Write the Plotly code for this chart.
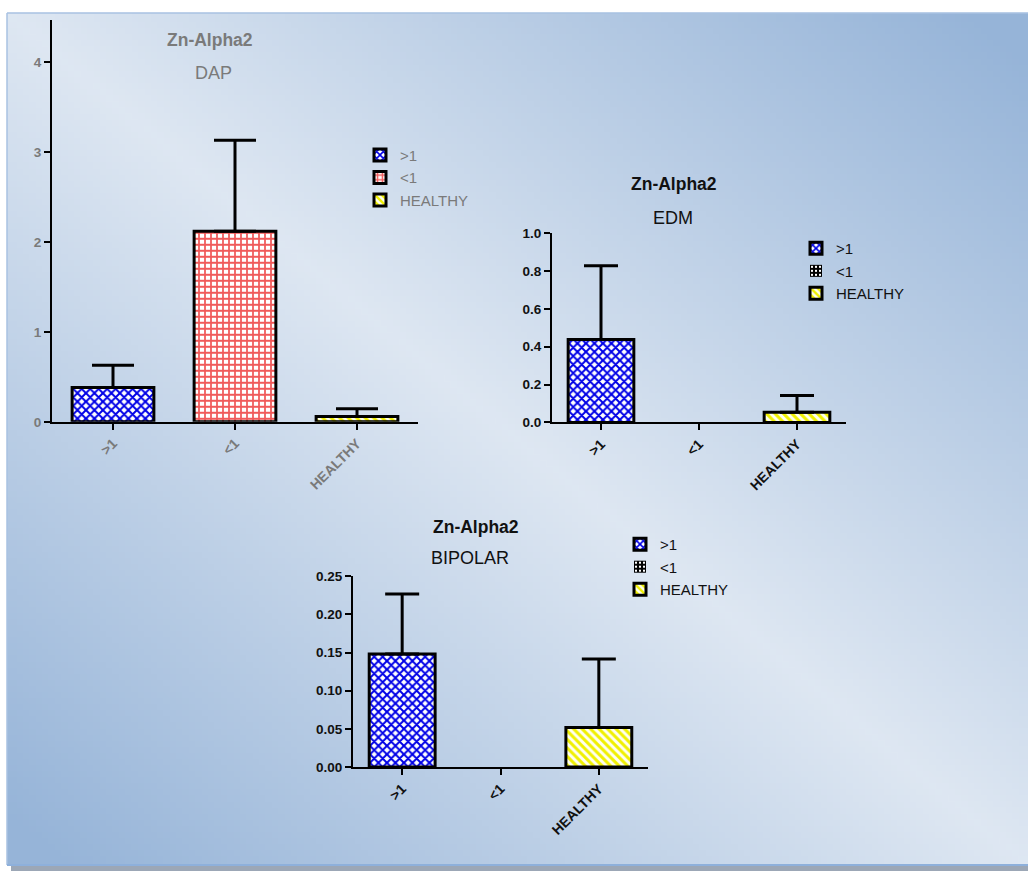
import base64
import struct
import zlib
import plotly.graph_objects as go

# ---------------- data ----------------
categories = [">1", "<1", "HEALTHY"]

dap_mean = [0.38, 2.12, 0.058]
dap_sd = [0.25, 1.01, 0.087]

edm_mean = [0.438, 0.0, 0.054]
edm_sd = [0.389, 0.0, 0.088]

bip_mean = [0.148, 0.0, 0.052]
bip_sd = [0.0785, 0.0, 0.0895]

chart_titles = ["Zn-Alpha2", "Zn-Alpha2", "Zn-Alpha2"]
chart_subtitles = ["DAP", "EDM", "BIPOLAR"]

# ---------------- styling helpers ----------------
W, H = 1028, 879
FONT = "Liberation Sans, Arial, sans-serif"
GRAY = "#7a7a7a"
BLACK = "#111111"


def px_x(x):
    return x / W


def px_y(y):
    return 1 - y / H


def make_png(w, h, fn):
    raw = bytearray()
    for j in range(h):
        raw.append(0)
        for i in range(w):
            raw.extend(fn(i / (w - 1), j / (h - 1)))

    def chunk(t, d):
        return struct.pack(">I", len(d)) + t + d + struct.pack(">I", zlib.crc32(t + d) & 0xFFFFFFFF)

    png = (b"\x89PNG\r\n\x1a\n"
           + chunk(b"IHDR", struct.pack(">IIBBBBB", w, h, 8, 2, 0, 0, 0))
           + chunk(b"IDAT", zlib.compress(bytes(raw), 9))
           + chunk(b"IEND", b""))
    return "data:image/png;base64," + base64.b64encode(png).decode()


LIGHT = (222, 231, 242)
DARK = (150, 180, 216)


def grad(u, v):
    t = min(1.0, abs(u - v) * 1.05)
    return bytes(int(round(LIGHT[k] + (DARK[k] - LIGHT[k]) * t)) for k in range(3))


bg_uri = make_png(160, 140, grad)

# pattern styles per category, per chart
pat_blue = dict(shape="x", fgcolor="#0000e6", bgcolor="white", size=6,
                solidity=0.55, fgopacity=1)
pat_pink = dict(shape="+", fgcolor="#f05a5a", bgcolor="white", size=6,
                solidity=0.5, fgopacity=1)
pat_black = dict(shape="+", fgcolor="black", bgcolor="white", size=5,
                 solidity=0.75, fgopacity=1)
pat_yellow = dict(shape="\\", fgcolor="#f0f000", bgcolor="#fffff0", size=6,
                  solidity=0.5, fgopacity=1)

charts = [
    dict(mean=dap_mean, sd=dap_sd, pats=[pat_blue, pat_pink, pat_yellow],
         xd=(52, 418), yd=(422, 13), yr=[0, 4.47], dtick=1, fmt="d",
         color=GRAY, cap=21, legend="legend",
         title_xy=(210, 34), sub_xy=(213, 67)),
    dict(mean=edm_mean, sd=edm_sd, pats=[pat_blue, pat_black, pat_yellow],
         xd=(552, 846), yd=(422.7, 230), yr=[0, 1.0], dtick=0.2, fmt=".1f",
         color=BLACK, cap=17, legend="legend2",
         title_xy=(674, 180), sub_xy=(673, 215)),
    dict(mean=bip_mean, sd=bip_sd, pats=[pat_blue, pat_black, pat_yellow],
         xd=(353, 648), yd=(773.3, 579), yr=[0, 0.25], dtick=0.05, fmt=".2f",
         color=BLACK, cap=17, legend="legend3",
         title_xy=(476, 529), sub_xy=(470, 561)),
]

fig = go.Figure()
annotations = []
for ci, ch in enumerate(charts):
    sfx = "" if ci == 0 else str(ci + 1)
    for k, cat in enumerate(categories):
        has_err = ch["sd"][k] > 0
        has_bar = ch["mean"][k] > 0
        fig.add_trace(go.Bar(
            x=[cat], y=[ch["mean"][k]], name=cat,
            xaxis="x" + sfx, yaxis="y" + sfx,
            legend=ch["legend"],
            width=0.67,
            marker=dict(color="white", pattern=ch["pats"][k],
                        line=dict(color="black", width=3 if has_bar else 0)),
            error_y=dict(type="data", symmetric=False, array=[ch["sd"][k]],
                         arrayminus=[0], color="black", thickness=3,
                         width=ch["cap"], visible=has_err),
            hoverinfo="skip",
        ))
    ax = dict(
        domain=[px_x(ch["xd"][0]), px_x(ch["xd"][1])],
        anchor="y" + sfx, type="category",
        categoryorder="array", categoryarray=categories,
        range=[-0.5, 2.5], showline=True, linecolor="black", linewidth=2,
        ticks="outside", ticklen=6, tickwidth=2, tickcolor="black",
        tickangle=-45, showgrid=False, zeroline=False,
        tickfont=dict(family=FONT, size=14, color=ch["color"], weight="bold"),
        fixedrange=True,
    )
    ay = dict(
        domain=[px_y(ch["yd"][0]), px_y(ch["yd"][1])],
        anchor="x" + sfx, range=ch["yr"], dtick=ch["dtick"], tick0=0,
        tickformat=ch["fmt"], showline=True, linecolor="black", linewidth=2,
        ticks="outside", ticklen=6, tickwidth=2, tickcolor="black",
        showgrid=False, zeroline=False,
        tickfont=dict(family=FONT, size=13.5, color=ch["color"], weight="bold"),
        fixedrange=True,
    )
    fig.update_layout(**{"xaxis" + sfx: ax, "yaxis" + sfx: ay})
    annotations.append(dict(
        text="<b>" + chart_titles[ci] + "</b>", xref="paper", yref="paper",
        x=px_x(ch["title_xy"][0]), y=px_y(ch["title_xy"][1]),
        xanchor="center", yanchor="middle", showarrow=False,
        font=dict(family=FONT, size=17.5, color=ch["color"])))
    annotations.append(dict(
        text=chart_subtitles[ci], xref="paper", yref="paper",
        x=px_x(ch["sub_xy"][0]), y=px_y(ch["sub_xy"][1]),
        xanchor="center", yanchor="middle", showarrow=False,
        font=dict(family=FONT, size=18, color=ch["color"])))

legend_common = dict(bgcolor="rgba(0,0,0,0)", borderwidth=0,
                     xanchor="left", yanchor="top", tracegroupgap=0,
                     itemclick=False, itemdoubleclick=False)
fig.update_layout(
    legend=dict(x=px_x(360), y=px_y(134),
                font=dict(family=FONT, size=15, color=GRAY), **legend_common),
    legend2=dict(x=px_x(796), y=px_y(229),
                 font=dict(family=FONT, size=15, color=BLACK), **legend_common),
    legend3=dict(x=px_x(620), y=px_y(530),
                 font=dict(family=FONT, size=15, color=BLACK), **legend_common),
)

shapes = [
    dict(type="line", xref="paper", yref="paper", x0=px_x(7), x1=px_x(7),
         y0=px_y(6), y1=px_y(873), line=dict(color="#a9c2e2", width=1.5)),
    dict(type="line", xref="paper", yref="paper", x0=px_x(7), x1=1,
         y0=px_y(6), y1=px_y(6), line=dict(color="#a9c2e2", width=1.5)),
    dict(type="line", xref="paper", yref="paper", x0=px_x(7), x1=1,
         y0=px_y(873), y1=px_y(873), line=dict(color="#8eb0db", width=2)),
    dict(type="rect", xref="paper", yref="paper", x0=px_x(11), x1=1,
         y0=0, y1=px_y(874), line=dict(width=0), fillcolor="#9ca7b6"),
]

fig.update_layout(
    width=W, height=H, autosize=False,
    margin=dict(l=0, r=0, t=0, b=0),
    paper_bgcolor="white", plot_bgcolor="rgba(0,0,0,0)",
    barmode="overlay", showlegend=True,
    annotations=annotations, shapes=shapes,
    images=[dict(source=bg_uri, xref="paper", yref="paper",
                 x=px_x(7), y=px_y(6), sizex=1 - px_x(7),
                 sizey=px_y(6) - px_y(873), xanchor="left", yanchor="top",
                 sizing="stretch", layer="below")],
    font=dict(family=FONT),
)

fig.write_html(
    "out.html",
    config={"displayModeBar": False},
    post_script="document.body.style.margin='0';document.body.style.overflow='hidden';",
)
